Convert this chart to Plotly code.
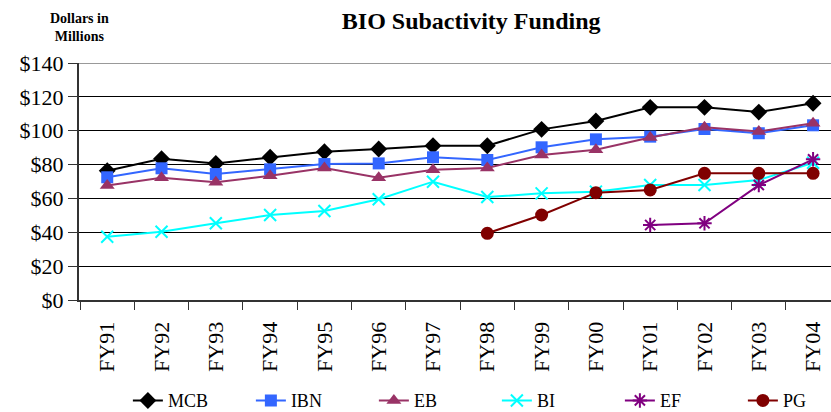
import plotly.graph_objects as go

years = ["FY91", "FY92", "FY93", "FY94", "FY95", "FY96", "FY97",
         "FY98", "FY99", "FY00", "FY01", "FY02", "FY03", "FY04"]
mcb = [76.4, 83.5, 80.7, 84.3, 87.6, 89.2, 91.1, 91.1, 100.8, 105.7, 113.8, 113.8, 111.0, 116.2]
ibn = [72.5, 77.8, 74.4, 77.2, 80.3, 80.7, 84.3, 82.7, 90.2, 94.9, 96.5, 101.0, 98.5, 103.2]
eb = [67.6, 72.2, 69.6, 73.4, 78.0, 72.2, 77.0, 78.0, 85.6, 88.8, 96.0, 102.0, 99.6, 104.4]
bi = [37.4, 40.3, 45.3, 50.2, 52.6, 59.5, 69.9, 60.8, 63.0, 64.0, 67.9, 67.9, 70.9, 81.1]
ef = [None, None, None, None, None, None, None, None, None, None, 44.3, 45.3, 67.9, 83.1]
pg = [None, None, None, None, None, None, None, 39.4, 50.2, 63.4, 65.0, 74.8, 74.8, 74.8]
y_ticks = [0, 20, 40, 60, 80, 100, 120, 140]
y_labels = ["$0", "$20", "$40", "$60", "$80", "$100", "$120", "$140"]

series = [
    ("MCB", mcb, "#000000", "diamond", 13, 2),
    ("IBN", ibn, "#3366FF", "square", 12, 2),
    ("EB", eb, "#993366", "triangle-up", 13, 2),
    ("BI", bi, "#00FFFF", "x-thin-open", 12, 2),
    ("EF", ef, "#800080", "asterisk-open", 12, 2),
    ("PG", pg, "#800000", "circle", 13, 2),
]

fig = go.Figure()
for name, vals, color, sym, size, lw in series:
    marker = dict(symbol=sym, size=size, color=color)
    if "open" in sym:
        marker["line"] = dict(color=color, width=2)
    fig.add_trace(go.Scatter(
        x=years, y=vals, name=name, mode="lines+markers",
        line=dict(color=color, width=lw), marker=marker,
        connectgaps=False,
    ))

serif = "Liberation Serif, Times New Roman, serif"

fig.update_layout(
    width=831, height=412,
    margin=dict(l=79, r=0, t=63, b=112, autoexpand=False),
    paper_bgcolor="white", plot_bgcolor="white",
    font=dict(family=serif, color="black"),
    title=dict(text="<b>BIO Subactivity Funding</b>", x=0.567, xanchor="center",
               y=0.95, yanchor="middle", font=dict(size=24, family=serif)),
    showlegend=True,
    legend=dict(orientation="h", x=0.065, xanchor="left", y=-0.425, yanchor="middle",
                font=dict(size=18, family=serif), entrywidth=78,
                entrywidthmode="pixels", traceorder="normal",
                bgcolor="rgba(0,0,0,0)"),
    xaxis=dict(
        type="category", range=[-0.52, 13.33], automargin=False,
        showgrid=False, showline=True, linecolor="#333333", linewidth=2,
        ticks="outside", ticklen=8, tickcolor="#333333", tickwidth=1,
        tickson="boundaries", tickangle=-90, ticklabelstandoff=11,
        tickfont=dict(size=22, family=serif),
    ),
    yaxis=dict(
        range=[0, 140], tickvals=y_ticks, ticktext=y_labels, automargin=False,
        showgrid=True, gridcolor="#000000", gridwidth=1,
        showline=True, linecolor="#333333", linewidth=2,
        ticks="outside", ticklen=9, tickcolor="#333333",
        tickfont=dict(size=22, family=serif), zeroline=False,
    ),
    annotations=[dict(
        text="<b>Dollars in<br>Millions</b>", xref="paper", yref="paper",
        x=0.0, y=1.0, xanchor="center", yanchor="bottom", yshift=17,
        showarrow=False, font=dict(size=14, family=serif), align="center",
    )],
    shapes=[dict(type="line", xref="paper", yref="y", x0=0, x1=1, y0=140, y1=140,
                 line=dict(color="#999999", width=2))],
)

fig.write_html("out.html", config={"displayModeBar": False},
               post_script="document.body.style.margin='0';document.body.style.overflow='hidden';")
